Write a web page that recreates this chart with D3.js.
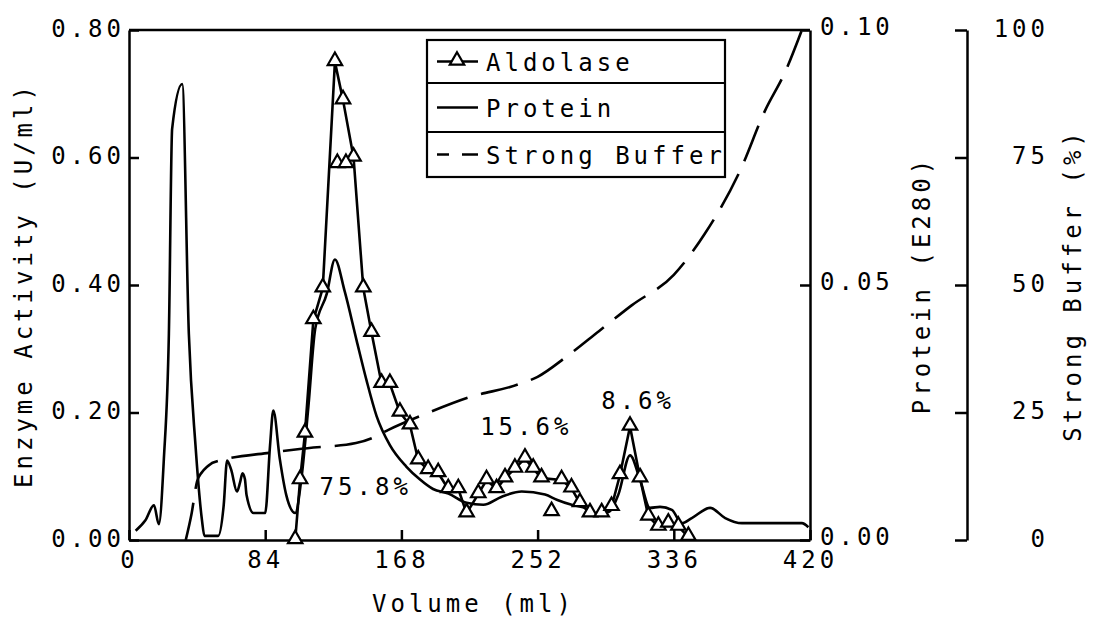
<!DOCTYPE html>
<html>
<head>
<meta charset="utf-8">
<script src="https://cdn.jsdelivr.net/npm/d3@7"></script>
<style>
  body { margin: 0; background: #fff; }
  svg text { font-family: "DejaVu Sans Mono", monospace; font-size: 24px; letter-spacing: 4px; fill: #000; }
</style>
</head>
<body>
<div id="chart"></div>
<script>
// volume (ml), enzyme activity (U/ml)
const aldolase = [
  [102.5, 0.00], [105.5, 0.094], [108.5, 0.167], [113.7, 0.345], [119.5, 0.395],
  [127, 0.75], [132, 0.69], [138.5, 0.60], [144.5, 0.395], [149.6, 0.325],
  [155.8, 0.245], [160.9, 0.245], [167.1, 0.20], [173.3, 0.18], [178.4, 0.125],
  [184.5, 0.11], [190.7, 0.105], [196.9, 0.08], [203.1, 0.08], [208.2, 0.042],
  [215.4, 0.072], [220.5, 0.094], [226.7, 0.08], [231.9, 0.097], [238, 0.112],
  [244.2, 0.128], [249.3, 0.112], [254.4, 0.097], [266.8, 0.094], [272.9, 0.081],
  [278.1, 0.058], [284.3, 0.042], [291.5, 0.042], [297.6, 0.052], [302.8, 0.102],
  [309, 0.178], [315.2, 0.097], [320.3, 0.037], [326.5, 0.021], [332.6, 0.026],
  [338.8, 0.021], [345, 0.005]
];
// replicate points that sit off the main trace
const aldolaseExtra = [[128.5, 0.59], [133.8, 0.59], [260.6, 0.044]];

// volume (ml), protein (E280)
const protein = [
  [4.1, 0.0018], [10, 0.0038], [15.4, 0.0068], [18.4, 0.0031], [21.5, 0.0159],
  [24.6, 0.0405], [26.6, 0.0806], [32.8, 0.0894], [36.9, 0.0405], [41, 0.0186],
  [45, 0.0039], [46.5, 0.0008], [55, 0.0008], [58.4, 0.0068], [60.5, 0.0156],
  [63, 0.0138], [66.6, 0.0095], [68.5, 0.0113], [70, 0.0131], [71.5, 0.0119],
  [72.5, 0.0088], [76.8, 0.0053], [84, 0.0053], [87, 0.0186], [89, 0.0254],
  [93, 0.0159], [97, 0.0088], [102.5, 0.0053], [106.5, 0.0125], [110.7, 0.0264],
  [114.8, 0.0413], [122, 0.0483], [127, 0.055], [133, 0.0488], [140.4, 0.0391],
  [146.5, 0.0313], [152.7, 0.0243], [160.9, 0.0186], [171, 0.0144], [179.3, 0.0119],
  [187.5, 0.01], [197, 0.0091], [208.2, 0.0073], [218.5, 0.0069], [229.9, 0.0085],
  [242.2, 0.0095], [256.6, 0.0089], [263.8, 0.0079], [273, 0.0069], [281.3, 0.0063],
  [287.4, 0.0053], [295.7, 0.0055], [301.8, 0.0089], [309, 0.0166], [315.2, 0.0118],
  [321.3, 0.0063], [327.5, 0.0065], [334.8, 0.0059], [340.9, 0.0033], [347.1, 0.0043],
  [358.4, 0.0063], [367.7, 0.0043], [378, 0.0033], [394.4, 0.0033], [415, 0.0033],
  [419, 0.0025]
];

// volume (ml), strong buffer (%)
const buffer = [
  [35, 0], [38.5, 5], [42, 11.5], [45, 13.3], [48, 14.3], [52, 15.2], [89, 17.2],
  [110, 18], [140, 19], [150, 20], [160, 21.6], [185, 25], [210, 28], [240, 30.5],
  [252, 32], [270, 36], [290, 41], [310, 46], [336, 52], [355, 60], [377, 72.5],
  [392, 84], [405, 92], [415, 100]
];

const xTicks = [0, 84, 168, 252, 336, 420];
const enzymeTicks = [0, 0.2, 0.4, 0.6, 0.8];
const proteinTicks = [0, 0.05, 0.1];
const bufferTicks = [0, 25, 50, 75, 100];

const notes = [
  { text: "75.8%", vol: 146, val: 0.07 },
  { text: "15.6%", vol: 245, val: 0.165 },
  { text: "8.6%", vol: 314, val: 0.205 }
];

const legendItems = ["Aldolase", "Protein", "Strong Buffer"];

/* ---------- layout ---------- */
const W = 1097, H = 619;
const L = 129, R = 810, T = 30, B = 540;

const svg = d3.select("#chart").append("svg").attr("width", W).attr("height", H);

const x = d3.scaleLinear().domain([0, 420]).range([L, R]);
const yE = d3.scaleLinear().domain([0, 0.8]).range([B, T]);
const yP = d3.scaleLinear().domain([0, 0.1]).range([B, T]);
const yB = d3.scaleLinear().domain([0, 100]).range([B, T]);

/* ---------- axes ---------- */
const gx = svg.append("g").attr("transform", `translate(0,${B})`)
  .call(d3.axisBottom(x).tickValues(xTicks).tickSizeInner(-10).tickSizeOuter(0).tickPadding(11).tickFormat(d3.format("d")));

const gl = svg.append("g").attr("transform", `translate(${L},0)`)
  .call(d3.axisLeft(yE).tickValues(enzymeTicks).tickSizeInner(-10).tickSizeOuter(0).tickPadding(4).tickFormat(d3.format(".2f")));

const gr = svg.append("g").attr("transform", `translate(${R},0)`)
  .call(d3.axisRight(yP).tickValues(proteinTicks).tickSizeInner(-10).tickSizeOuter(0).tickPadding(10).tickFormat(d3.format(".2f")));

const gb = svg.append("g").attr("transform", `translate(967,0)`)
  .call(d3.axisRight(yB).tickValues(bufferTicks).tickSizeInner(-12).tickSizeOuter(0).tickPadding(0).tickFormat(d3.format("d")));
gb.selectAll("text").attr("text-anchor", "end").attr("x", 82);

[gx, gl, gr, gb].forEach((g) => {
  g.attr("font-family", null).attr("font-size", null);
  g.selectAll("path, line").attr("stroke", "#000").attr("stroke-width", 2.5);
  g.selectAll("text").attr("fill", "#000");
});
gl.selectAll("text").attr("dy", "0.25em");
gr.selectAll("text").attr("dy", "0.2em");
gb.selectAll("text").attr("dy", "0.25em");

// top border of the frame
svg.append("line").attr("x1", x(0)).attr("x2", x(420)).attr("y1", yE(0.8)).attr("y2", yE(0.8))
  .attr("stroke", "#000").attr("stroke-width", 2.5);

/* ---------- axis titles ---------- */
svg.append("text").attr("x", (L + R) / 2 + 4).attr("y", 612).attr("text-anchor", "middle").text("Volume (ml)");
svg.append("text").attr("transform", `translate(32,${(T + B) / 2}) rotate(-90)`).attr("text-anchor", "middle").text("Enzyme Activity (U/ml)");
svg.append("text").attr("transform", `translate(930,${(T + B) / 2}) rotate(-90)`).attr("text-anchor", "middle").text("Protein (E280)");
svg.append("text").attr("transform", `translate(1081,${(T + B) / 2}) rotate(-90)`).attr("text-anchor", "middle").text("Strong Buffer (%)");

/* ---------- series ---------- */
svg.append("defs").append("clipPath").attr("id", "plot")
  .append("rect").attr("x", L).attr("y", T - 2).attr("width", R - L).attr("height", B - T + 2);

const plot = svg.append("g").attr("clip-path", "url(#plot)");

const lineE = d3.line().x((d) => x(d[0])).y((d) => yE(d[1]));
const lineP = d3.line().x((d) => x(d[0])).y((d) => yP(d[1])).curve(d3.curveMonotoneX);
const lineB = d3.line().x((d) => x(d[0])).y((d) => yB(d[1])).curve(d3.curveMonotoneX);

plot.append("path").datum(buffer).attr("d", lineB)
  .attr("fill", "none").attr("stroke", "#000").attr("stroke-width", 2.6).attr("stroke-dasharray", "38,14");

plot.append("path").datum(protein).attr("d", lineP)
  .attr("fill", "none").attr("stroke", "#000").attr("stroke-width", 2.6).attr("stroke-linejoin", "round");

plot.append("path").datum(aldolase).attr("d", lineE)
  .attr("fill", "none").attr("stroke", "#000").attr("stroke-width", 2.6).attr("stroke-linejoin", "round");

const tri = d3.symbol().type(d3.symbolTriangle).size(90);
svg.append("g").selectAll("path")
  .data(aldolase.concat(aldolaseExtra))
  .enter()
  .append("path")
  .attr("d", tri)
  .attr("transform", (d) => `translate(${x(d[0])},${yE(d[1]) - 1})`)
  .attr("fill", "#fff")
  .attr("stroke", "#000")
  .attr("stroke-width", 2.2);

/* ---------- percent labels ---------- */
svg.append("g").selectAll("text")
  .data(notes)
  .enter()
  .append("text")
  .attr("x", (d) => x(d.vol))
  .attr("y", (d) => yE(d.val))
  .attr("text-anchor", "middle")
  .text((d) => d.text);

/* ---------- legend ---------- */
const lg = svg.append("g");
const lx0 = 427, lx1 = 725, rowsY = [40, 83, 132, 177];
lg.append("rect").attr("x", lx0).attr("y", rowsY[0]).attr("width", lx1 - lx0).attr("height", rowsY[3] - rowsY[0])
  .attr("fill", "#fff").attr("stroke", "#000").attr("stroke-width", 2.2);
[rowsY[1], rowsY[2]].forEach((yy) => {
  lg.append("line").attr("x1", lx0).attr("x2", lx1).attr("y1", yy).attr("y2", yy).attr("stroke", "#000").attr("stroke-width", 2.2);
});
legendItems.forEach((name, i) => {
  const cy = (rowsY[i] + rowsY[i + 1]) / 2;
  lg.append("text").attr("x", 486).attr("y", cy + 9).text(name);
  if (i === 2) {
    lg.append("line").attr("x1", 437).attr("x2", 449).attr("y1", cy).attr("y2", cy).attr("stroke", "#000").attr("stroke-width", 2.5);
    lg.append("line").attr("x1", 462).attr("x2", 478).attr("y1", cy).attr("y2", cy).attr("stroke", "#000").attr("stroke-width", 2.5);
  } else {
    lg.append("line").attr("x1", 437).attr("x2", 478).attr("y1", cy).attr("y2", cy).attr("stroke", "#000").attr("stroke-width", 2.5);
  }
  if (i === 0) {
    lg.append("path").attr("d", tri).attr("transform", `translate(457,${cy - 1})`)
      .attr("fill", "#fff").attr("stroke", "#000").attr("stroke-width", 2.2);
  }
});
</script>
</body>
</html>
